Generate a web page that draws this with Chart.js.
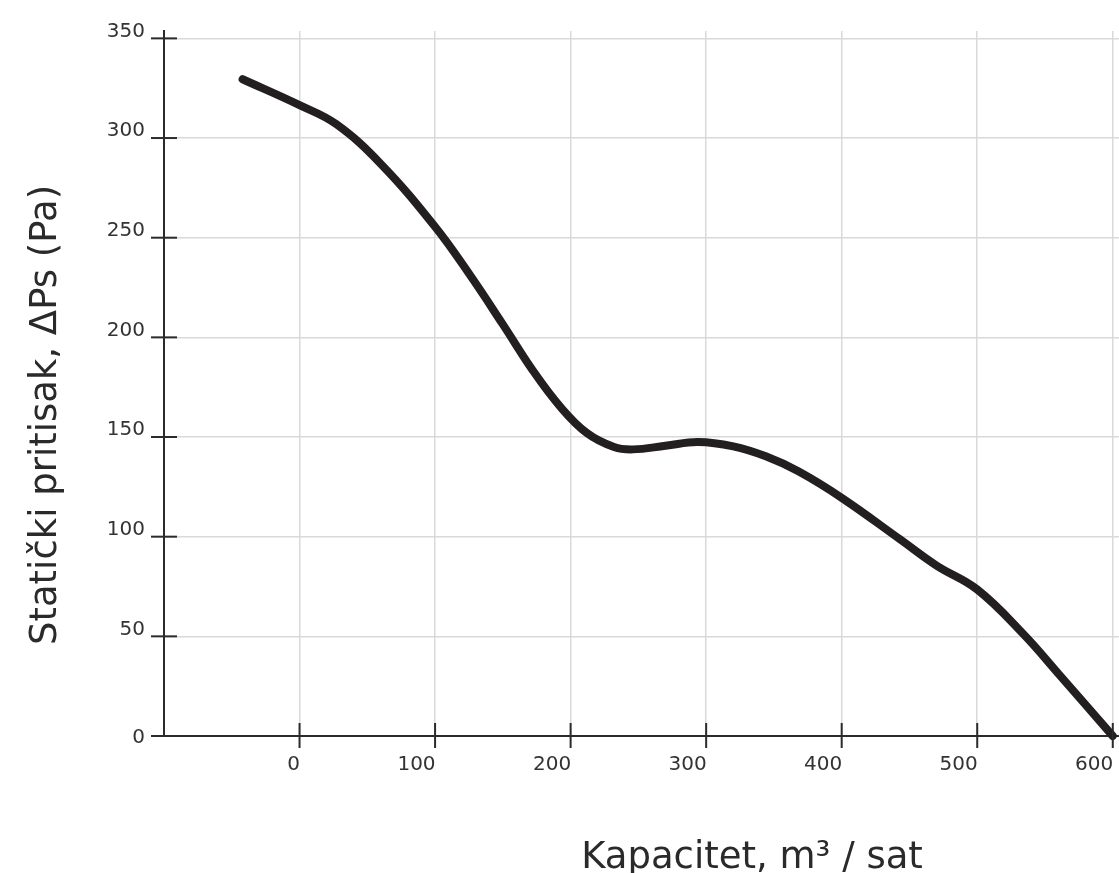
<!DOCTYPE html>
<html><head><meta charset="utf-8">
<script src="https://cdn.jsdelivr.net/npm/chart.js@4/dist/chart.umd.min.js"></script>
<style>html,body{margin:0;padding:0;background:#fff;overflow:hidden}</style>
</head><body>
<canvas id="c" width="1119" height="873" style="display:block;width:1119px;height:873px"></canvas>
<script>
const capacity = [-42, 0, 27, 60, 100, 126, 150, 172, 192, 212, 232, 246, 270, 294, 320, 344, 368, 400, 443, 470, 500, 534, 560, 600];
const pressure = [329.5, 316.5, 307, 287, 255.5, 231, 206.5, 183.5, 165.5, 152, 145, 143.8, 145.6, 147.5, 145.3, 140.3, 132.8, 119.5, 98.7, 85.5, 73.5, 51.2, 31.2, 0];
const xTicks = [0, 100, 200, 300, 400, 500, 600];
const yTicks = [0, 50, 100, 150, 200, 250, 300, 350];
const xTitle = 'Kapacitet, m³ / sat';
const yTitle = 'Statički pritisak, ΔPs (Pa)';

const FONT = '"DejaVu Sans", sans-serif';
const TXT = '#333333';
const AXIS = '#2b2b2b';
const GRID = '#d9d9d9';

const decor = {
  id: 'decor',
  afterDraw(chart) {
    const ctx = chart.ctx, xs = chart.scales.x, ys = chart.scales.y, a = chart.chartArea;
    ctx.save();
    ctx.strokeStyle = AXIS; ctx.lineWidth = 2;
    yTicks.forEach(v => {
      const py = ys.getPixelForValue(v);
      ctx.beginPath(); ctx.moveTo(a.left - 13, py); ctx.lineTo(a.left + 13, py); ctx.stroke();
    });
    xTicks.forEach(v => {
      const px = xs.getPixelForValue(v);
      ctx.beginPath(); ctx.moveTo(px, a.bottom - 13); ctx.lineTo(px, a.bottom + 12); ctx.stroke();
    });
    ctx.fillStyle = TXT;
    ctx.font = '20px ' + FONT;
    ctx.textBaseline = 'alphabetic';
    ctx.textAlign = 'right';
    yTicks.forEach(v => {
      const py = ys.getPixelForValue(v);
      ctx.fillText(String(v), a.left - 19, v === 0 ? py + 7 : py - 1.7);
    });
    xTicks.forEach(v => {
      const px = xs.getPixelForValue(v);
      ctx.fillText(String(v), px + 0.5, a.bottom + 34);
    });
    ctx.font = '37px ' + FONT;
    ctx.textAlign = 'center';
    ctx.fillStyle = '#2a2a2a';
    ctx.fillText(xTitle, 752, 868);
    ctx.translate(56, 415);
    ctx.rotate(-Math.PI / 2);
    ctx.fillText(yTitle, 0, 0);
    ctx.restore();
  }
};

new Chart(document.getElementById('c'), {
  type: 'line',
  data: {
    datasets: [{
      data: capacity.map((x, i) => ({ x, y: pressure[i] })),
      borderColor: '#231f20',
      borderWidth: 8,
      borderCapStyle: 'round',
      borderJoinStyle: 'round',
      pointRadius: 0,
      fill: false,
      tension: 0.4,
      clip: false
    }]
  },
  options: {
    responsive: false,
    animation: false,
    devicePixelRatio: 1,
    layout: { padding: { left: 164, top: 31, right: 0, bottom: 137 } },
    plugins: { legend: { display: false }, tooltip: { enabled: false } },
    scales: {
      x: {
        type: 'linear', min: -100, max: 604.6,
        afterBuildTicks: s => { s.ticks = xTicks.map(v => ({ value: v })); },
        ticks: { display: false },
        grid: { color: GRID, lineWidth: 1.5, drawTicks: false },
        border: { display: true, color: AXIS, width: 2 }
      },
      y: {
        type: 'linear', min: 0, max: 353.7,
        afterBuildTicks: s => { s.ticks = yTicks.map(v => ({ value: v })); },
        ticks: { display: false },
        grid: { color: c => (c.tick && c.tick.value === 0) ? 'rgba(0,0,0,0)' : GRID, lineWidth: 1.5, drawTicks: false },
        border: { display: true, color: AXIS, width: 2 }
      }
    }
  },
  plugins: [decor]
});
</script>
</body></html>
